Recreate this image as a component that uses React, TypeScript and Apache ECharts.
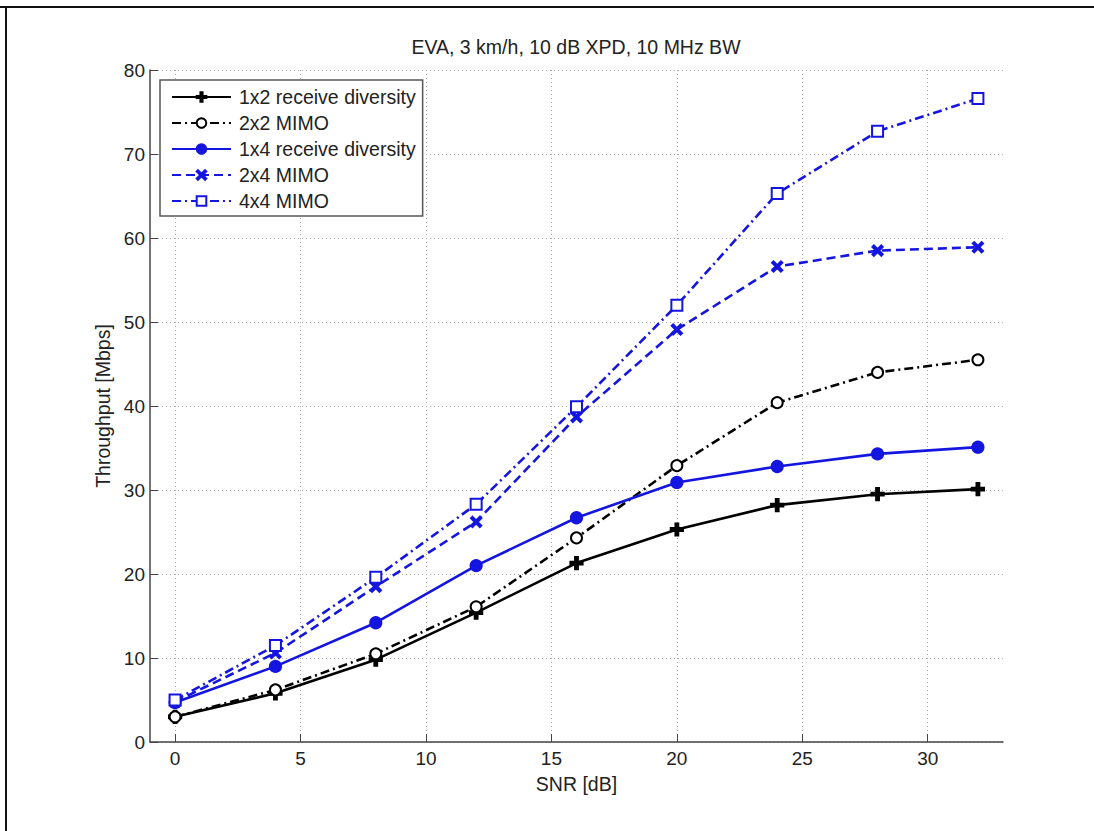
import React, { useEffect, useRef } from "react";
import * as echarts from "echarts";

const snr = [0, 4, 8, 12, 16, 20, 24, 28, 32];
const rx1x2 = [3.0, 5.8, 9.8, 15.4, 21.3, 25.3, 28.2, 29.5, 30.1];
const mimo2x2 = [3.0, 6.2, 10.5, 16.1, 24.3, 32.9, 40.4, 44.0, 45.5];
const rx1x4 = [4.7, 9.0, 14.2, 21.0, 26.7, 30.9, 32.8, 34.3, 35.1];
const mimo2x4 = [4.8, 10.6, 18.5, 26.2, 38.7, 49.1, 56.6, 58.5, 58.9];
const mimo4x4 = [5.0, 11.5, 19.6, 28.3, 39.9, 52.0, 65.3, 72.7, 76.6];
const xTicks = [0, 5, 10, 15, 20, 25, 30];
const seriesNames = ["1x2 receive diversity", "2x2 MIMO", "1x4 receive diversity", "2x4 MIMO", "4x4 MIMO"];

const BLUE = "#1515e0";
const BLACK = "#000000";
const FONT = "'Liberation Sans', Arial, sans-serif";
const TXT = "#222";

const plusPath = "path://M3.9,0H6.1V3.9H10V6.1H6.1V10H3.9V6.1H0V3.9H3.9Z";
const crossPath = "path://M1.3,0L5,3.7L8.7,0L10,1.3L6.3,5L10,8.7L8.7,10L5,6.3L1.3,10L0,8.7L3.7,5L0,1.3Z";

function pts(ys: number[]) {
  return snr.map((x, i) => [x, ys[i]]);
}

export default function App() {
  const ref = useRef<HTMLDivElement>(null);
  useEffect(() => {
    document.body.style.margin = "0";
    const chart = echarts.init(ref.current!, null, { renderer: "svg" });
    const mk = (name: string, data: number[], color: string, dash: any, symbol: string, size: number) => ({
      name,
      type: "line",
      data: pts(data),
      symbol,
      symbolSize: size,
      showSymbol: true,
      lineStyle: { color, width: 2.6, type: dash },
      itemStyle: { color, borderColor: color, borderWidth: 2.2 },
      emphasis: { disabled: true },
      z: 3,
    });
    chart.setOption({
      animation: false,
      backgroundColor: "#fff",
      textStyle: { fontFamily: FONT },
      title: {
        text: "EVA, 3 km/h, 10 dB XPD, 10 MHz BW",
        left: 571,
        top: 32,
        textAlign: "center",
        textStyle: { fontFamily: FONT, fontSize: 19.5, fontWeight: "normal", color: TXT },
      },
      grid: { left: 150, right: 91, top: 70, bottom: 89, containLabel: false },
      xAxis: {
        type: "value",
        min: -1,
        max: 33,
        name: "SNR [dB]",
        nameLocation: "middle",
        nameGap: 32,
        nameTextStyle: { fontFamily: FONT, fontSize: 19.5, color: TXT },
        axisLine: { show: true, onZero: false, lineStyle: { color: "#444", width: 1.5 } },
        axisTick: { show: true, inside: true, length: 8, customValues: xTicks, lineStyle: { color: "#444" } },
        axisLabel: { customValues: xTicks, fontFamily: FONT, fontSize: 19, color: TXT, margin: 7 },
        splitLine: { show: true, lineStyle: { color: "#aaa", type: [1, 3], width: 1 } },
      },
      yAxis: {
        type: "value",
        min: 0,
        max: 80,
        interval: 10,
        name: "Throughput [Mbps]",
        nameLocation: "middle",
        nameGap: 36,
        nameTextStyle: { fontFamily: FONT, fontSize: 19.5, color: TXT },
        axisLine: { show: true, onZero: false, lineStyle: { color: "#444", width: 1.5 } },
        axisTick: { show: true, inside: true, length: 8, lineStyle: { color: "#444" } },
        axisLabel: { fontFamily: FONT, fontSize: 19, color: TXT, margin: 5 },
        splitLine: { show: true, lineStyle: { color: "#aaa", type: [1, 3], width: 1 } },
      },
      legend: {
        orient: "vertical",
        left: 160,
        top: 80,
        data: seriesNames,
        itemWidth: 59,
        itemHeight: 12,
        itemGap: 6,
        padding: [7, 7, 5, 11],
        backgroundColor: "#fff",
        borderColor: "#555",
        borderWidth: 1.5,
        borderRadius: 0,
        textStyle: { fontFamily: FONT, fontSize: 19.5, lineHeight: 19, color: TXT, padding: [0, 0, 0, 3] },
        selectedMode: false,
      },
      series: [
        mk(seriesNames[0], rx1x2, BLACK, "solid", plusPath, 12),
        mk(seriesNames[1], mimo2x2, BLACK, [9, 4, 2, 4], "emptyCircle", 11),
        mk(seriesNames[2], rx1x4, BLUE, "solid", "circle", 11),
        mk(seriesNames[3], mimo2x4, BLUE, [9, 5], crossPath, 10),
        mk(seriesNames[4], mimo4x4, BLUE, [9, 4, 2, 4], "emptyRect", 11),
      ],
      graphic: [
        { type: "line", shape: { x1: 0, y1: 7, x2: 1094, y2: 7 }, style: { stroke: "#111", lineWidth: 2 } },
        { type: "line", shape: { x1: 6, y1: 7, x2: 6, y2: 831 }, style: { stroke: "#111", lineWidth: 2 } },
      ],
    });
    return () => chart.dispose();
  }, []);
  return <div ref={ref} style={{ width: 1094, height: 831 }} />;
}
